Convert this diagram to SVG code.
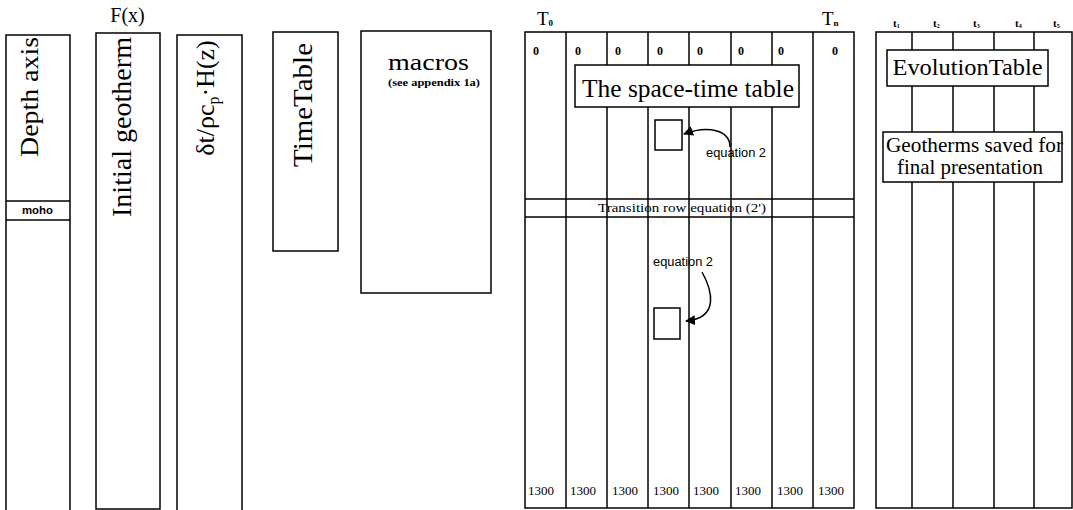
<svg xmlns="http://www.w3.org/2000/svg" width="1073" height="510" viewBox="0 0 1073 510">
<style>
.ln{stroke:#000;stroke-width:1.5;fill:none}
.bx{stroke:#000;stroke-width:1.5;fill:#fff}
.serif{font-family:"Liberation Serif","Times New Roman",serif;fill:#000}
.sans{font-family:"Liberation Sans",Arial,sans-serif;fill:#000}
.zero{font-family:"Liberation Serif",serif;font-weight:bold;font-size:12px}
.val{font-family:"Liberation Serif",serif;font-size:13px}
.tl{font-family:"Liberation Serif",serif;font-weight:bold;font-size:11px}
</style>
<defs>
<marker id="ah" viewBox="0 0 10 10" refX="9" refY="5" markerWidth="10" markerHeight="10" orient="auto" markerUnits="userSpaceOnUse">
<path d="M0,0 L10,5 L0,10 z" fill="#000"/>
</marker>
</defs>
<rect width="1073" height="510" fill="#fff"/>

<g id="depth-axis">
<path class="ln" d="M6,510 V35 H70 V510"/>
<line class="ln" x1="6" y1="201" x2="70" y2="201"/>
<line class="ln" x1="6" y1="220" x2="70" y2="220"/>
<text class="serif" font-size="26" text-anchor="middle" textLength="120" lengthAdjust="spacingAndGlyphs" transform="translate(38,97) rotate(-90)">Depth axis</text>
<text class="sans" font-size="11" font-weight="bold" x="22" y="214" textLength="31" lengthAdjust="spacingAndGlyphs">moho</text>
</g>

<g id="initial-geotherm">
<rect class="ln" x="96" y="33" width="64" height="476"/>
<text class="serif" font-size="20" x="127.5" y="22" text-anchor="middle">F(x)</text>
<text class="serif" font-size="27" text-anchor="middle" textLength="180" lengthAdjust="spacingAndGlyphs" transform="translate(131,127) rotate(-90)">Initial geotherm</text>
</g>

<g id="heat-production">
<path class="ln" d="M177,510 V35 H242 V510"/>
<text class="serif" font-size="26" text-anchor="middle" transform="translate(214,98) rotate(-90)">δt/ρc<tspan font-size="16" dy="5">p</tspan><tspan dy="-5">·H(z)</tspan></text>
</g>

<g id="timetable">
<rect class="ln" x="273" y="32" width="65" height="219"/>
<text class="serif" font-size="28" text-anchor="middle" textLength="124" lengthAdjust="spacingAndGlyphs" transform="translate(312,105) rotate(-90)">TimeTable</text>
</g>

<g id="macros">
<rect class="ln" x="361" y="31" width="130" height="262"/>
<text class="serif" font-size="24" x="428.5" y="70" text-anchor="middle" textLength="81" lengthAdjust="spacingAndGlyphs">macros</text>
<text class="serif" font-size="10" font-weight="bold" x="434" y="86" text-anchor="middle" textLength="92" lengthAdjust="spacingAndGlyphs">(see appendix 1a)</text>
</g>

<g id="space-time-table">
<text class="serif" font-size="19" x="537" y="25">T<tspan font-size="9" font-weight="bold" dy="1">0</tspan></text>
<text class="serif" font-size="19" x="822" y="25">T<tspan font-size="9" font-weight="bold" dy="1">n</tspan></text>
<rect class="ln" x="525" y="32" width="329" height="476"/>
<g class="ln">
<line x1="566" y1="32" x2="566" y2="508"/>
<line x1="607" y1="32" x2="607" y2="508"/>
<line x1="648" y1="32" x2="648" y2="508"/>
<line x1="689" y1="32" x2="689" y2="508"/>
<line x1="731" y1="32" x2="731" y2="508"/>
<line x1="772" y1="32" x2="772" y2="508"/>
<line x1="813" y1="32" x2="813" y2="508"/>
<line x1="525" y1="199" x2="854" y2="199"/>
<line x1="525" y1="217" x2="854" y2="217"/>
</g>
<g class="zero">
<text x="533" y="55">0</text><text x="575" y="55">0</text><text x="615" y="55">0</text><text x="657" y="55">0</text>
<text x="697" y="55">0</text><text x="738" y="55">0</text><text x="778" y="55">0</text><text x="832" y="55">0</text>
</g>
<g class="val">
<text x="528" y="495">1300</text><text x="570" y="495">1300</text><text x="612" y="495">1300</text><text x="653" y="495">1300</text>
<text x="693" y="495">1300</text><text x="735" y="495">1300</text><text x="777" y="495">1300</text><text x="818" y="495">1300</text>
</g>
<text class="serif" font-size="13" x="682" y="212" text-anchor="middle" textLength="168" lengthAdjust="spacingAndGlyphs">Transition row equation (2')</text>
<rect class="bx" x="575" y="65" width="224" height="42"/>
<text class="serif" font-size="25" x="688" y="97" text-anchor="middle" textLength="212" lengthAdjust="spacingAndGlyphs">The space-time table</text>
</g>

<g id="cell-upper">
<rect class="ln" x="655" y="120" width="27" height="30"/>
</g>
<g id="cell-lower">
<rect class="ln" x="654" y="308" width="26" height="31"/>
</g>

<g id="connectors">
<path class="ln" stroke-width="2.5" d="M730,147 C730,130 708,125 684,134" marker-end="url(#ah)"/>
<path class="ln" stroke-width="2.5" d="M702,272 C712,290 720,318 686,321" marker-end="url(#ah)"/>
<text class="sans" font-size="12" x="706" y="157" textLength="60" lengthAdjust="spacingAndGlyphs">equation 2</text>
<text class="sans" font-size="12" x="653" y="266" textLength="60" lengthAdjust="spacingAndGlyphs">equation 2</text>
</g>

<g id="evolution-table">
<g class="tl">
<text x="893" y="27">t<tspan font-size="6" dy="1">1</tspan></text>
<text x="933" y="27">t<tspan font-size="6" dy="1">2</tspan></text>
<text x="973" y="27">t<tspan font-size="6" dy="1">3</tspan></text>
<text x="1015" y="27">t<tspan font-size="6" dy="1">4</tspan></text>
<text x="1053" y="27">t<tspan font-size="6" dy="1">5</tspan></text>
</g>
<rect class="ln" x="876" y="32" width="196" height="476"/>
<g class="ln">
<line x1="912" y1="32" x2="912" y2="508"/>
<line x1="953" y1="32" x2="953" y2="508"/>
<line x1="994" y1="32" x2="994" y2="508"/>
<line x1="1034" y1="32" x2="1034" y2="508"/>
</g>
<rect class="bx" x="887" y="50" width="161" height="36"/>
<text class="serif" font-size="24" x="967.5" y="75" text-anchor="middle" textLength="150" lengthAdjust="spacingAndGlyphs">EvolutionTable</text>
<rect class="bx" x="883" y="132" width="179" height="50"/>
<text class="serif" font-size="21" x="886" y="152" textLength="177" lengthAdjust="spacingAndGlyphs">Geotherms saved for</text>
<text class="serif" font-size="21" x="970" y="174" text-anchor="middle" textLength="146" lengthAdjust="spacingAndGlyphs">final presentation</text>
</g>
</svg>
